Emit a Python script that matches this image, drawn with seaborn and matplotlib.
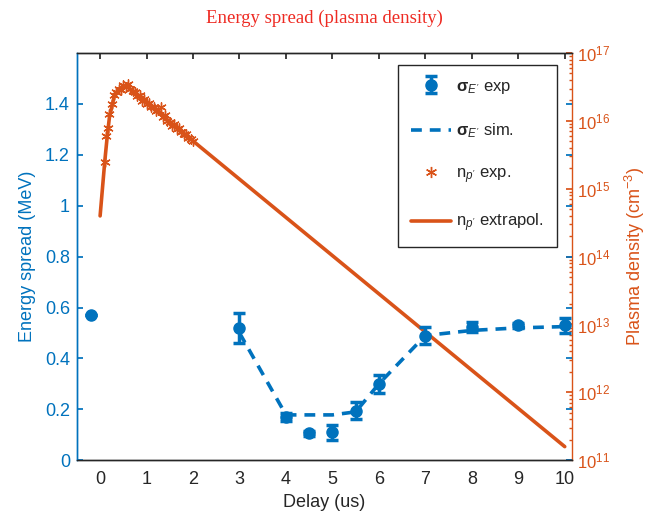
import numpy as np
import pandas as pd
import matplotlib
matplotlib.use("Agg")
import matplotlib.pyplot as plt
import seaborn as sns
from matplotlib.lines import Line2D

# ---------------- data ----------------
# energy spread, experiment
sig_exp_x = [-0.2, 3, 4, 4.5, 5, 5.5, 6, 7, 8, 9, 10]
sig_exp_y = [0.57, 0.52, 0.17, 0.105, 0.11, 0.195, 0.30, 0.49, 0.525, 0.53, 0.53]
sig_exp_err = [0.0, 0.06, 0.015, 0.01, 0.03, 0.035, 0.035, 0.035, 0.02, 0.01, 0.03]
# energy spread, simulation
sig_sim_x = [3, 4, 4.5, 5, 5.5, 6, 7, 8, 9, 10]
sig_sim_y = [0.50, 0.178, 0.178, 0.178, 0.19, 0.30, 0.49, 0.51, 0.52, 0.525]
# plasma density, experiment (log10 cm^-3)
np_exp_x = [0.1, 0.13, 0.17, 0.2, 0.25, 0.3, 0.35, 0.4, 0.45, 0.5, 0.55,
            0.6, 0.65, 0.7, 0.75, 0.8, 0.85, 0.9, 0.95, 1.0, 1.05, 1.1, 1.15,
            1.2, 1.25, 1.3, 1.35, 1.4, 1.45, 1.5, 1.55, 1.6, 1.65, 1.7, 1.75,
            1.8, 1.85, 1.9, 1.95, 2.0]
np_exp_log = [15.4, 15.78, 15.9, 16.1, 16.25, 16.38, 16.42, 16.47, 16.45, 16.53, 16.5,
              16.55, 16.47, 16.44, 16.43, 16.37, 16.38, 16.3, 16.33, 16.25, 16.27, 16.2, 16.2,
              16.14, 16.16, 16.2, 16.06, 16.08, 16.0, 15.99, 15.93, 15.95, 15.88, 15.9, 15.84,
              15.8, 15.8, 15.75, 15.74, 15.7]
# plasma density, extrapolation (log10 cm^-3)
np_ext_x = [0.0, 0.05, 0.1, 0.15, 0.2, 0.3, 0.4, 0.55, 10.0]
np_ext_log = [14.6, 15.0, 15.4, 15.75, 16.05, 16.35, 16.47, 16.52, 11.2]

# tick labels
x_ticks = list(range(0, 11))
left_ticks = [0, 0.2, 0.4, 0.6, 0.8, 1, 1.2, 1.4]
left_tick_labels = ["0", "0.2", "0.4", "0.6", "0.8", "1", "1.2", "1.4"]
right_exps = [11, 12, 13, 14, 15, 16, 17]

BLUE = "#0072BD"
ORANGE = "#D95319"
DARK = "#262626"

sns.set_theme(style="white")
plt.rcParams["font.family"] = ["Liberation Sans", "DejaVu Sans"]
plt.rcParams["mathtext.fontset"] = "custom"
plt.rcParams["mathtext.rm"] = "Liberation Sans"
plt.rcParams["mathtext.it"] = "Liberation Sans:italic"
plt.rcParams["mathtext.bf"] = "Liberation Sans:bold"

fig = plt.figure(figsize=(6.46, 5.2), dpi=100)
ax = fig.add_axes([0.119, 0.115, 0.766, 0.783])
ax2 = ax.twinx()

df_exp = pd.DataFrame({"x": sig_exp_x, "y": sig_exp_y, "e": sig_exp_err})
df_sim = pd.DataFrame({"x": sig_sim_x, "y": sig_sim_y})
df_np = pd.DataFrame({"x": np_exp_x, "n": np.power(10.0, np_exp_log)})
df_ext = pd.DataFrame({"x": np_ext_x, "n": np.power(10.0, np_ext_log)})

# right axis (density) drawn first, then left axis above it
ax2.set_yscale("log")
sns.lineplot(data=df_ext, x="x", y="n", ax=ax2, color=ORANGE, lw=2.6,
             sort=False, estimator=None)
sns.scatterplot(data=df_np, x="x", y="n", ax=ax2, color=ORANGE,
                marker=(6, 2, 0), s=45, linewidth=1.0, edgecolor=ORANGE, zorder=3)
ax2.set_ylim(1e11, 1e17)

ax.set_zorder(ax2.get_zorder() + 1)
ax.patch.set_visible(False)
sns.lineplot(data=df_sim, x="x", y="y", ax=ax, color=BLUE, lw=2.6,
             linestyle=(0, (3, 2.2)), sort=False, estimator=None)
eb = ax.errorbar(df_exp["x"], df_exp["y"], yerr=df_exp["e"], fmt="o", color=BLUE,
                 ms=8, elinewidth=2.5, capsize=4, capthick=2.5, zorder=4)

ax.set_xlim(-0.5, 10.15)
ax.set_ylim(0, 1.6)
ax.set_xticks(x_ticks)
ax.set_xticklabels([str(t) for t in x_ticks])
ax.set_yticks(left_ticks)
ax.set_yticklabels(left_tick_labels)
ax2.set_yticks([10.0 ** e for e in right_exps])
ax2.set_yticklabels([r"$10^{%d}$" % e for e in right_exps])

ax.set_xlabel("Delay (us)", fontsize=13, color=DARK, labelpad=4)
ax.set_ylabel("Energy spread (MeV)", fontsize=13, color=BLUE, labelpad=6)
ax2.set_ylabel(r"Plasma density (cm$^{-3}$)", fontsize=13, color=ORANGE, labelpad=9)
ax2.set_xlabel("")

ax.tick_params(axis="x", direction="in", top=True, length=4, labelsize=13,
               colors=DARK, pad=8)
ax.tick_params(axis="y", direction="in", left=True, right=True, length=4,
               labelsize=13, colors=BLUE, pad=5)
ax2.tick_params(axis="y", which="major", direction="in", right=True, left=False,
                length=4, labelsize=12, colors=ORANGE, pad=4)
ax2.tick_params(axis="y", which="minor", direction="in", right=True, left=False,
                length=2, colors=ORANGE)
ax2.yaxis.set_minor_locator(matplotlib.ticker.LogLocator(base=10, subs=np.arange(2, 10)))
ax2.yaxis.set_minor_formatter(matplotlib.ticker.NullFormatter())

for a in (ax, ax2):
    for s in a.spines.values():
        s.set_linewidth(1.0)
        s.set_color(DARK)
ax.spines["left"].set_color(BLUE)
ax2.spines["left"].set_color(BLUE)
ax2.spines["right"].set_color(ORANGE)
ax.spines["right"].set_visible(False)

ax.set_title("Energy spread (plasma density)", family=["Liberation Serif"],
             fontsize=13.5, color="#EE2A22", pad=22)

# legend
h1 = eb
h2 = Line2D([], [], color=BLUE, lw=2.6, linestyle=(0, (3, 2.2)))
h3 = Line2D([], [], color=ORANGE, marker=(6, 2, 0), ms=8, mew=1.0, lw=0)
h4 = Line2D([], [], color=ORANGE, lw=2.6)
leg = ax.legend([h1, h2, h3, h4],
                [r"$\mathbf{\sigma}_{E'}$ exp", r"$\mathbf{\sigma}_{E'}$ sim.",
                 r"n$_{p'}$ exp.", r"n$_{p'}$ extrapol."],
                loc="upper right", bbox_to_anchor=(0.97, 0.97), borderaxespad=0,
                fontsize=12, labelspacing=1.55, handlelength=2.4, handletextpad=0.3,
                borderpad=0.8, frameon=True, fancybox=False, framealpha=1)
leg.get_frame().set_edgecolor(DARK)
leg.get_frame().set_linewidth(1.0)
for t in leg.get_texts():
    t.set_color(DARK)

fig.savefig("out.png", dpi=100)
